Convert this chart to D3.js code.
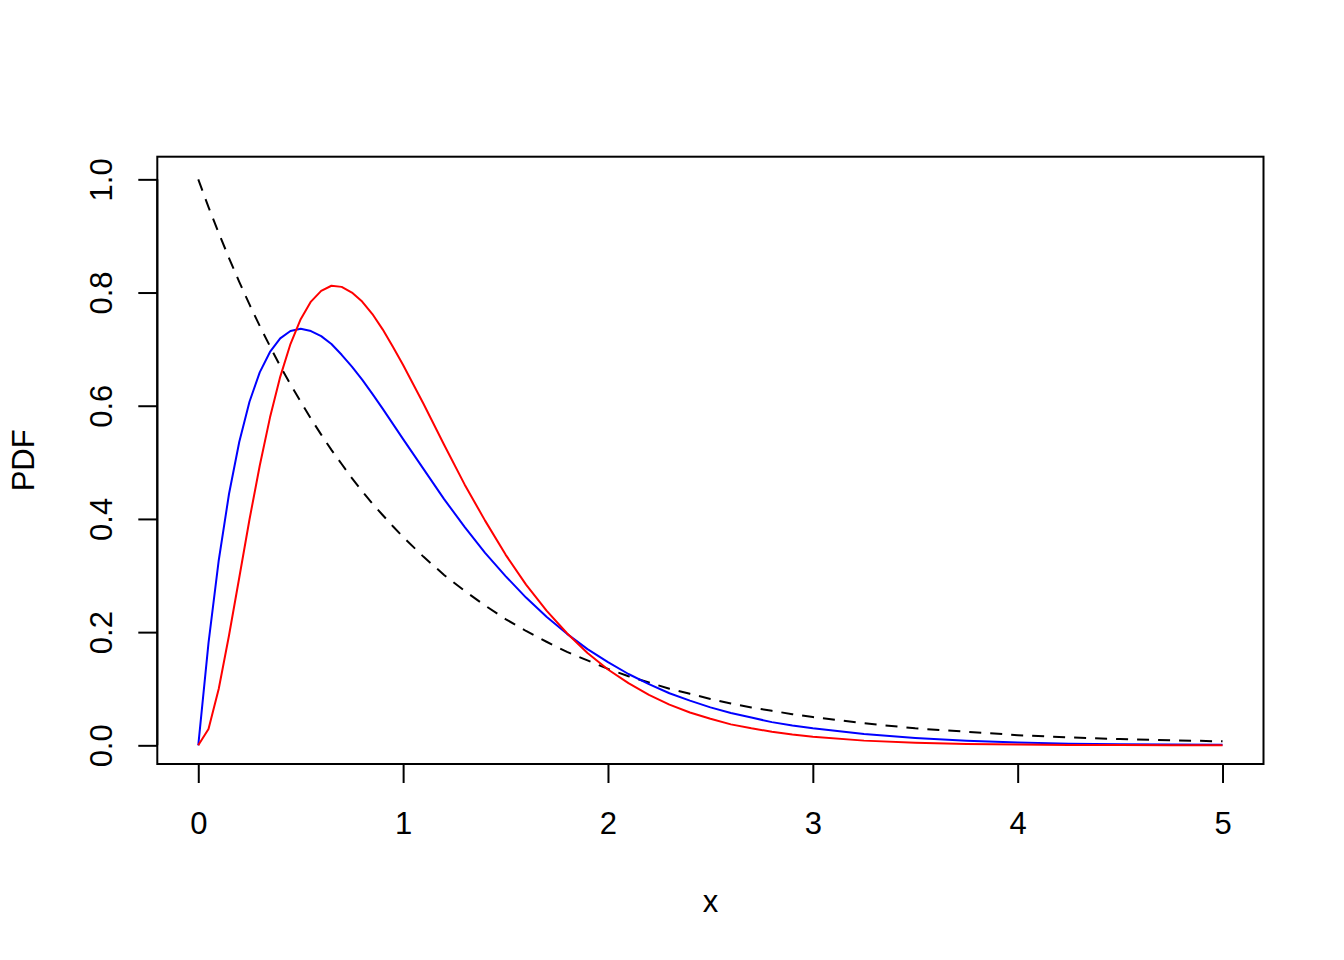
<!DOCTYPE html>
<html>
<head>
<meta charset="utf-8">
<script src="https://cdn.jsdelivr.net/npm/d3@7"></script>
<style>
  html, body { margin: 0; padding: 0; background: #fff; }
  text { font-family: "Liberation Sans", Arial, Helvetica, sans-serif; fill: #000; }
</style>
</head>
<body>
<svg id="chart" width="1344" height="960"></svg>
<script>
// x grid
const xs = [0,0.05,0.1,0.15,0.2,0.25,0.3,0.35,0.4,0.45,0.5,0.55,0.6,0.65,0.7,0.75,0.8,0.85,0.9,0.95,1.0,
  1.1,1.2,1.3,1.4,1.5,1.6,1.7,1.8,1.9,2.0,2.1,2.2,2.3,2.4,2.5,2.6,2.7,2.8,2.9,3.0,3.25,3.5,3.75,4.0,4.25,4.5,4.75,5.0];
// dashed black curve
const dashedY = [1.000,0.951,0.905,0.861,0.819,0.779,0.741,0.705,0.670,0.638,0.607,0.577,0.549,0.522,0.497,0.472,0.449,0.427,0.407,0.387,0.368,
  0.333,0.301,0.273,0.247,0.223,0.202,0.183,0.165,0.150,0.135,0.122,0.111,0.100,0.091,0.082,0.074,0.067,0.061,0.055,0.050,0.039,0.030,0.024,0.018,0.014,0.011,0.009,0.007];
// blue curve
const blueY = [0,0.181,0.327,0.444,0.536,0.607,0.659,0.695,0.719,0.732,0.736,0.732,0.723,0.709,0.690,0.669,0.646,0.621,0.595,0.568,0.541,
  0.488,0.435,0.386,0.340,0.299,0.261,0.227,0.197,0.170,0.147,0.126,0.108,0.092,0.079,0.067,0.057,0.049,0.041,0.035,0.030,0.020,0.013,0.008,0.005,0.003,0.002,0.0014,0.0009];
// red curve
const redY = [0,0.029,0.100,0.194,0.296,0.399,0.494,0.579,0.651,0.709,0.753,0.784,0.803,0.812,0.810,0.800,0.784,0.762,0.735,0.704,0.672,
  0.603,0.531,0.461,0.397,0.337,0.284,0.238,0.198,0.163,0.134,0.110,0.089,0.072,0.058,0.047,0.037,0.030,0.024,0.019,0.015,0.0083,0.0045,0.0025,0.0013,0.0007,0.0004,0.0002,0.0001];

const xTicks = [0,1,2,3,4,5];
const yTicks = [0,0.2,0.4,0.6,0.8,1.0];
const xLabel = "x", yLabel = "PDF";

const svg = d3.select("#chart");
const pLeft = 157.3, pRight = 1263.5, pTop = 156.7, pBottom = 764;

const x = d3.scaleLinear().domain([-0.2, 5.2]).range([pLeft, pRight]);
const y = d3.scaleLinear().domain([-0.033, 1.04]).range([pBottom, pTop]);

const FS = 31;
const tickLen = 19;

// curves
const line = (ys) => d3.line().x((d, i) => x(xs[i])).y(d => y(d))(ys);

svg.append("path").attr("d", line(dashedY)).attr("fill", "none")
  .attr("stroke", "#000").attr("stroke-width", 2).attr("stroke-dasharray", "12,9");
svg.append("path").attr("d", line(blueY)).attr("fill", "none")
  .attr("stroke", "#0000ff").attr("stroke-width", 2).attr("stroke-linejoin", "round");
svg.append("path").attr("d", line(redY)).attr("fill", "none")
  .attr("stroke", "#ff0000").attr("stroke-width", 2).attr("stroke-linejoin", "round");

// box
svg.append("rect").attr("x", pLeft).attr("y", pTop)
  .attr("width", pRight - pLeft).attr("height", pBottom - pTop)
  .attr("fill", "none").attr("stroke", "#000").attr("stroke-width", 2);

// x axis
const xAxis = d3.axisBottom(x).tickValues(xTicks).tickSize(tickLen).tickPadding(0).tickFormat(d3.format("d"));
const gx = svg.append("g").attr("transform", `translate(0,${pBottom})`).call(xAxis);
gx.select(".domain").attr("d", `M${x(0)},0H${x(5)}`).attr("stroke-width", 2);
gx.selectAll(".tick line").attr("stroke-width", 2);
gx.selectAll(".tick text").attr("font-size", FS).attr("dy", null).attr("y", 70)
  .style("font-family", "Liberation Sans, Arial, sans-serif");

// y axis
const yAxis = d3.axisLeft(y).tickValues(yTicks).tickSize(tickLen).tickPadding(0).tickFormat(d3.format(".1f"));
const gy = svg.append("g").attr("transform", `translate(${pLeft},0)`).call(yAxis);
gy.select(".domain").attr("d", `M0,${y(0)}V${y(1)}`).attr("stroke-width", 2);
gy.selectAll(".tick line").attr("stroke-width", 2);
gy.selectAll(".tick text").attr("font-size", FS).attr("x", null).attr("dy", null)
  .attr("text-anchor", "middle")
  .attr("transform", "translate(-45,0) rotate(-90)")
  .style("font-family", "Liberation Sans, Arial, sans-serif");

// axis labels
svg.append("text").attr("x", (pLeft + pRight) / 2).attr("y", 912)
  .attr("text-anchor", "middle").attr("font-size", FS).text(xLabel);
svg.append("text").attr("transform", `translate(34,${(pTop + pBottom) / 2}) rotate(-90)`)
  .attr("text-anchor", "middle").attr("font-size", FS).text(yLabel);
</script>
</body>
</html>
